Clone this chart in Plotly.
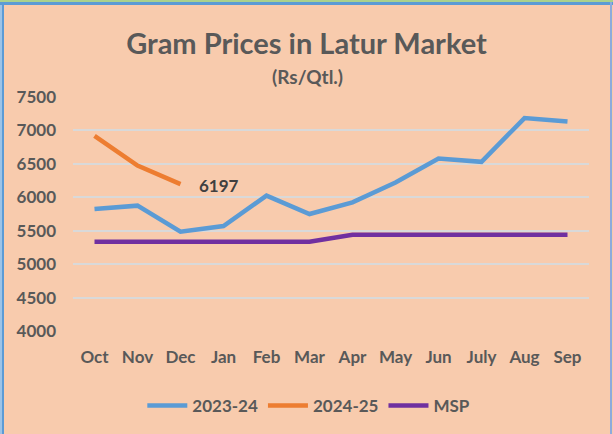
import plotly.graph_objects as go

months = ["Oct", "Nov", "Dec", "Jan", "Feb", "Mar", "Apr", "May", "Jun", "July", "Aug", "Sep"]
prices_2023_24 = [5825, 5875, 5485, 5570, 6025, 5750, 5925, 6220, 6580, 6530, 7185, 7135]
prices_2024_25 = [6920, 6475, 6197]
msp = [5335, 5335, 5335, 5335, 5335, 5335, 5440, 5440, 5440, 5440, 5440, 5440]
y_ticks = [4000, 4500, 5000, 5500, 6000, 6500, 7000, 7500]

FONT = "Lato"
TXT = "#595959"

fig = go.Figure()
fig.add_trace(go.Scatter(x=months, y=prices_2023_24, mode="lines", name="2023-24",
                         line=dict(color="#5B9BD5", width=4.5)))
fig.add_trace(go.Scatter(x=months[:len(prices_2024_25)], y=prices_2024_25, mode="lines", name="2024-25",
                         line=dict(color="#ED7D31", width=4.5)))
fig.add_trace(go.Scatter(x=months, y=msp, mode="lines", name="MSP",
                         line=dict(color="#7030A0", width=4.5)))

fig.add_annotation(x=months[len(prices_2024_25) - 1], y=prices_2024_25[-1], text="6197",
                   showarrow=False, xanchor="left", yanchor="middle", xshift=16, yshift=-1,
                   font=dict(family=FONT, size=17, color="#404040", weight="bold"))
fig.add_annotation(x=0.4535, y=1.0897, xref="paper", yref="paper", text="(Rs/Qtl.)",
                   showarrow=False, xanchor="center", yanchor="middle",
                   font=dict(family=FONT, size=19, color=TXT, weight="bold"))

# outer frame
def px_x(p):
    return (p - 73) / 516

def px_y(p):
    return (331 - p) / 234

fig.add_shape(type="rect", xref="paper", yref="paper", x0=px_x(0), x1=px_x(613), y0=px_y(0), y1=px_y(2),
              fillcolor="#A9D18E", line_width=0, layer="above")
fig.add_shape(type="rect", xref="paper", yref="paper", x0=px_x(0), x1=px_x(2), y0=px_y(434), y1=px_y(2),
              fillcolor="#9DC3E6", line_width=0, layer="above")
fig.add_shape(type="rect", xref="paper", yref="paper", x0=px_x(0), x1=px_x(613), y0=px_y(2), y1=px_y(5),
              fillcolor="#5B9BD5", line_width=0, layer="above")
fig.add_shape(type="rect", xref="paper", yref="paper", x0=px_x(2), x1=px_x(4), y0=px_y(434), y1=px_y(2),
              fillcolor="#5B9BD5", line_width=0, layer="above")
fig.add_shape(type="rect", xref="paper", yref="paper", x0=px_x(610), x1=px_x(612), y0=px_y(434), y1=px_y(2),
              fillcolor="#8FAADC", line_width=0, layer="above")

fig.update_layout(
    width=613, height=434,
    paper_bgcolor="#F8CBAD", plot_bgcolor="#F8CBAD",
    margin=dict(l=73, r=24, t=97, b=103, autoexpand=False),
    title=dict(text="Gram Prices in Latur Market", x=0.5, xref="container", xanchor="center",
               y=1 - 44 / 434, yref="container", yanchor="middle",
               font=dict(family=FONT, size=29, color=TXT, weight="bold")),
    showlegend=True,
    legend=dict(orientation="h", x=0.457, xanchor="center", xref="paper", y=px_y(406), yanchor="middle",
                font=dict(family=FONT, size=17, color=TXT, weight="bold"), bgcolor="rgba(0,0,0,0)",
                itemwidth=40, traceorder="normal"),
    xaxis=dict(type="category", categoryorder="array", categoryarray=months, range=[-0.5, 11.5],
               showgrid=False, zeroline=False, showline=False, ticks="",
               tickfont=dict(family=FONT, size=17, color=TXT, weight="bold"), ticklabelstandoff=14),
    yaxis=dict(range=[4000, 7500], tickvals=y_ticks, showgrid=True, gridcolor="#D9D9D9", gridwidth=1.5,
               zeroline=False, showline=False, ticks="",
               tickfont=dict(family=FONT, size=17, color=TXT, weight="bold"), ticklabelstandoff=16),
)

fig.write_html("out.html", config={"displayModeBar": False},
               post_script="document.body.style.margin='0';document.body.style.overflow='hidden';")
